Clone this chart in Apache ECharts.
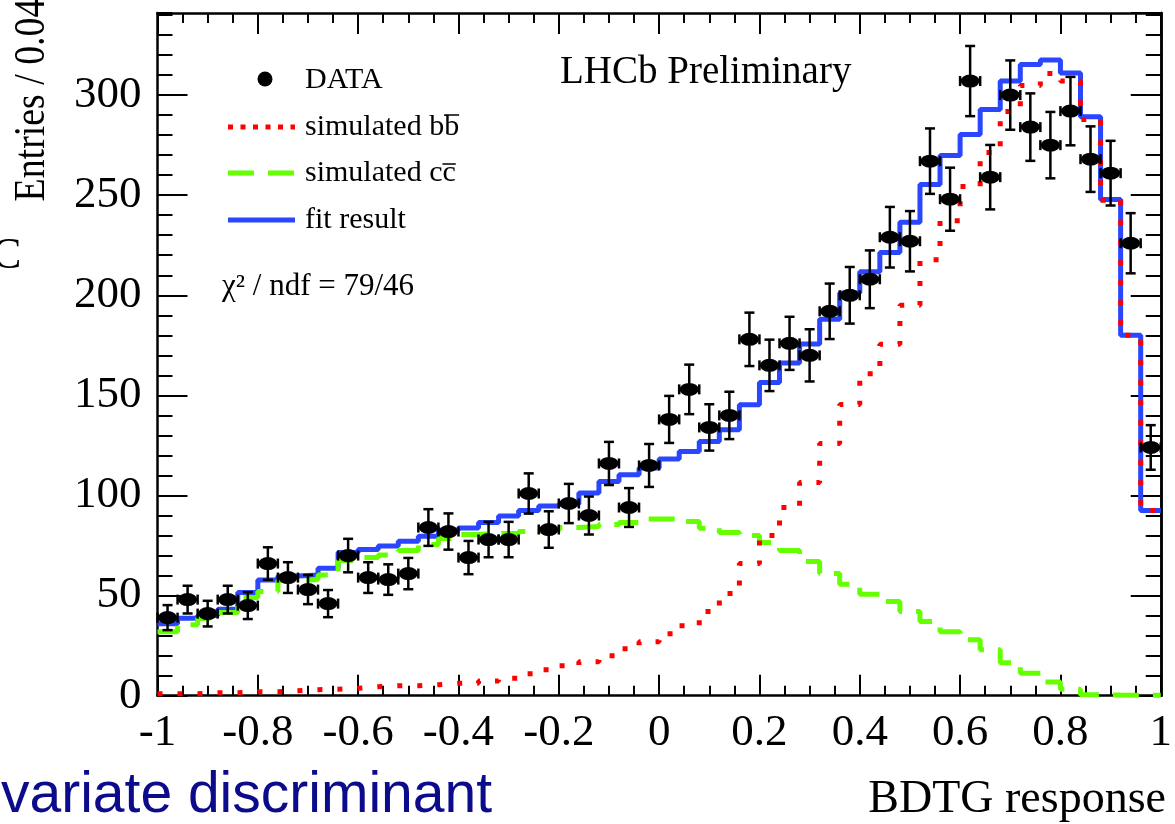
<!DOCTYPE html>
<html>
<head>
<meta charset="utf-8">
<script src="https://cdn.jsdelivr.net/npm/echarts@6/dist/echarts.min.js"></script>
<style>
html, body { margin: 0; padding: 0; background: #fff; }
#main { width: 1175px; height: 824px; }
</style>
</head>
<body>
<div id="main"></div>
<script>
// BDTG response histogram, 50 bins of 0.04 from -1 to 1
var xMin = -1;
var binWidth = 0.04;

// measured entries per bin
var dataCounts = [39, 48, 41, 48, 45, 66, 59, 53, 46, 70,
                  59, 58, 61, 84, 82, 69, 78, 78, 101, 83,
                  96, 90, 116, 94, 115, 138, 153, 134, 140, 178,
                  165, 176, 170, 192, 200, 208, 229, 227, 267, 248,
                  307, 259, 300, 284, 275, 292, 268, 261, 226, 124];

// fit result (sum of templates)
var fitResult = [36, 38.7, 40, 43.2, 51.5, 57.8, 59.8, 60.3, 63.6, 71.5,
                 73, 74.8, 77.2, 79.6, 82.6, 83.8, 86.5, 89.8, 92.5, 94.8,
                 95.8, 101.2, 107, 110.3, 113.7, 118.2, 122, 127, 132.8, 145.3,
                 156.5, 166.2, 175.7, 188, 201.2, 211.8, 221.4, 236.5, 255.3, 269.8,
                 280.3, 292.8, 307, 315.3, 317.5, 311, 289.2, 247.8, 180, 92.5];

// simulated b bbar
var simBB = [1, 1, 1.5, 1.5, 2, 2, 2.5, 3, 3.2, 3.7,
             4.5, 5, 5, 5.5, 6.2, 6.2, 7.3, 8.7, 11, 13,
             15, 17, 20, 23.5, 27, 31, 35, 42, 51, 66,
             80, 94, 106.5, 126, 145.5, 160.8, 175.6, 195, 217.8, 237.2,
             254.3, 271.3, 291.8, 304.8, 310.8, 307, 287.8, 247.5, 180, 92.5];

// simulated c cbar
var simCC = [32, 35.5, 38.5, 41.5, 49, 52, 57.5, 58, 60.3, 67.5,
             69, 70.3, 72.5, 75.5, 78.5, 80.5, 81, 81, 82, 82.5,
             84, 84.5, 85.5, 86.5, 88.3, 88.3, 87, 83.7, 81.5, 80,
             76.5, 72.5, 67, 61, 55.7, 50.7, 47, 42, 37, 32,
             28, 23, 16.5, 11.2, 6.8, 3.2, 0.5, 0.3, 0.2, 0.2];

var serif = '"Liberation Serif", "Times New Roman", serif';

// histogram outline: one point per left bin edge, plus the last right edge
function stepData(vals) {
    var out = [];
    for (var i = 0; i < vals.length; i++) {
        out.push([xMin + i * binWidth, vals[i]]);
    }
    out.push([xMin + vals.length * binWidth, vals[vals.length - 1]]);
    return out;
}

var points = [];
var errPoints = [];
for (var i = 0; i < dataCounts.length; i++) {
    var xc = xMin + (i + 0.5) * binWidth;
    points.push([xc, dataCounts[i]]);
    errPoints.push([xc, dataCounts[i], Math.sqrt(dataCounts[i])]);   // poisson error
}

function yAxisOf(pos, interval, tickLen, showLabel) {
    return {
        type: 'value', min: 0, max: 341, interval: interval, position: pos,
        axisLine: { show: showLabel || pos == 'right', onZero: false, lineStyle: { color: '#000', width: 2.5 } },
        axisTick: { show: true, inside: true, length: tickLen, lineStyle: { color: '#000', width: 2 } },
        axisLabel: { show: showLabel, showMaxLabel: false, margin: 16, color: '#000', fontFamily: serif, fontSize: 45 },
        splitLine: { show: false }
    };
}

function xAxisOf(pos, showLabel) {
    return {
        type: 'value', min: -1, max: 1, interval: 0.2, position: pos,
        axisLine: { show: true, onZero: false, lineStyle: { color: '#000', width: 2.5 } },
        axisTick: { show: true, inside: true, length: 21, lineStyle: { color: '#000', width: 2 } },
        minorTick: { show: true, splitNumber: 4, length: 10, lineStyle: { color: '#000', width: 2 } },
        axisLabel: { show: showLabel, margin: 15, color: '#000', fontFamily: serif, fontSize: 45 },
        splitLine: { show: false }, minorSplitLine: { show: false }
    };
}

var chart = echarts.init(document.getElementById('main'));

// text widths for the overbars in the legend
var mctx = document.createElement('canvas').getContext('2d');
var legFont = 30;
mctx.font = legFont + 'px ' + serif;
var legX = 305;
var wBB = mctx.measureText('simulated b').width, wb = mctx.measureText('b').width;
var wCC = mctx.measureText('simulated c').width, wc = mctx.measureText('c').width;

var legStyle = { font: legFont + 'px ' + serif, fill: '#000', verticalAlign: 'middle' };

chart.setOption({
    animation: false,
    backgroundColor: '#fff',
    grid: { left: 157.5, right: 10.5, top: 13, bottom: 128.3, containLabel: false },
    xAxis: [xAxisOf('bottom', true), xAxisOf('top', false)],
    yAxis: [
        yAxisOf('left', 50, 30, true),
        yAxisOf('left', 10, 15, false),
        yAxisOf('right', 50, 30, false),
        yAxisOf('right', 10, 15, false)
    ],
    graphic: [
        { type: 'text', x: 32, y: 100, rotation: Math.PI / 2, scaleX: 0.86,
          style: { text: 'Entries / 0.04', font: '44px ' + serif, fill: '#000', align: 'center', verticalAlign: 'middle' } },
        { type: 'text', x: -8, y: 256,
          style: { text: 'C', font: '44px ' + serif, fill: '#000', verticalAlign: 'middle' } },
        { type: 'text', x: 560, y: 73,
          style: { text: 'LHCb Preliminary', font: '39px ' + serif, fill: '#000', verticalAlign: 'middle' } },
        // legend
        { type: 'circle', shape: { cx: 265, cy: 79, r: 7.5 }, style: { fill: '#000' } },
        { type: 'text', x: legX, y: 80, style: Object.assign({ text: 'DATA' }, legStyle) },
        { type: 'line', shape: { x1: 228, y1: 127, x2: 295, y2: 127 },
          style: { stroke: '#ff0000', lineWidth: 5, lineDash: [5, 7.5] } },
        { type: 'text', x: legX, y: 127, style: Object.assign({ text: 'simulated bb' }, legStyle) },
        { type: 'line', shape: { x1: legX + wBB, y1: 115, x2: legX + wBB + wb, y2: 115 },
          style: { stroke: '#000', lineWidth: 1.5 } },
        { type: 'line', shape: { x1: 228, y1: 173, x2: 295, y2: 173 },
          style: { stroke: '#66ff00', lineWidth: 5, lineDash: [26, 14] } },
        { type: 'text', x: legX, y: 173, style: Object.assign({ text: 'simulated cc' }, legStyle) },
        { type: 'line', shape: { x1: legX + wCC, y1: 164, x2: legX + wCC + wc, y2: 164 },
          style: { stroke: '#000', lineWidth: 1.5 } },
        { type: 'line', shape: { x1: 228, y1: 220, x2: 295, y2: 220 },
          style: { stroke: '#2a46ff', lineWidth: 5 } },
        { type: 'text', x: legX, y: 220, style: Object.assign({ text: 'fit result' }, legStyle) },
        { type: 'text', x: 222, y: 287,
          style: { text: 'χ² / ndf = 79/46', font: '31px ' + serif, fill: '#000', verticalAlign: 'middle' } },
        // bottom texts
        { type: 'text', x: 1166, y: 800,
          style: { text: 'BDTG response', font: '46px ' + serif, fill: '#000', align: 'right', verticalAlign: 'middle' } },
        { type: 'text', x: 1, y: 796,
          style: { text: 'variate discriminant', font: '57px "Liberation Sans", Arial, sans-serif', fill: '#0b0b8c', verticalAlign: 'middle' } }
    ],
    series: [
        {
            name: 'fit result', type: 'line', step: 'end', data: stepData(fitResult),
            symbol: 'none', lineStyle: { color: '#2a46ff', width: 5 }, z: 2
        },
        {
            name: 'simulated cc', type: 'line', step: 'end', data: stepData(simCC),
            symbol: 'none', lineStyle: { color: '#66ff00', width: 5, type: [26, 14], cap: 'butt' }, z: 3
        },
        {
            name: 'simulated bb', type: 'line', step: 'end', data: stepData(simBB),
            symbol: 'none', lineStyle: { color: '#ff0000', width: 5, type: [5, 15], cap: 'butt' }, z: 4
        },
        {
            name: 'DATA errors', type: 'custom', data: errPoints, z: 5,
            renderItem: function (params, api) {
                var x = api.value(0), y = api.value(1), e = api.value(2);
                var c = api.coord([x, y]);
                var top = api.coord([x, y + e])[1], bot = api.coord([x, y - e])[1];
                var l = api.coord([x - binWidth / 2, y])[0], r = api.coord([x + binWidth / 2, y])[0];
                var cap = 5;
                var st = { stroke: '#000', lineWidth: 2.5 };
                return {
                    type: 'group',
                    children: [
                        { type: 'line', shape: { x1: c[0], y1: top, x2: c[0], y2: bot }, style: st },
                        { type: 'line', shape: { x1: c[0] - cap, y1: top, x2: c[0] + cap, y2: top }, style: st },
                        { type: 'line', shape: { x1: c[0] - cap, y1: bot, x2: c[0] + cap, y2: bot }, style: st },
                        { type: 'line', shape: { x1: l, y1: c[1], x2: r, y2: c[1] }, style: st },
                        { type: 'line', shape: { x1: l, y1: c[1] - cap, x2: l, y2: c[1] + cap }, style: st },
                        { type: 'line', shape: { x1: r, y1: c[1] - cap, x2: r, y2: c[1] + cap }, style: st }
                    ]
                };
            }
        },
        {
            name: 'DATA', type: 'scatter', data: points, symbol: 'circle', symbolSize: [19, 13],
            itemStyle: { color: '#000', opacity: 1 }, z: 6
        }
    ]
});
</script>
</body>
</html>
